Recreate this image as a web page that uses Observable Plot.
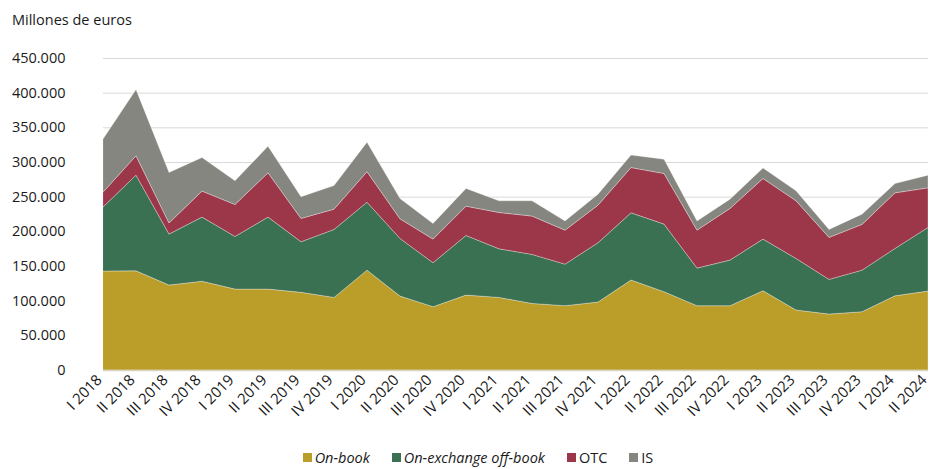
<!DOCTYPE html>
<html>
<head>
<meta charset="utf-8">
<script src="https://cdn.jsdelivr.net/npm/d3@7"></script>
<script src="https://cdn.jsdelivr.net/npm/@observablehq/plot@0.6"></script>
<style>
  html, body { margin: 0; padding: 0; background: #fff; }
  body { width: 930px; height: 469px; overflow: hidden; font-family: "Open Sans", sans-serif; color: #1a1a1a; }
  #title { height: 40px; font-size: 14.5px; padding-left: 12px; line-height: 40px; box-sizing: border-box; }
  #legend { height: 24px; display: flex; justify-content: center; align-items: center; font-size: 14.5px; padding-left: 26px; }
  .item { display: flex; align-items: center; margin: 0 11px; }
  .sw { width: 9px; height: 9px; margin-right: 3px; display: inline-block; }
  .it { font-style: italic; }
</style>
</head>
<body>
<div id="title">Millones de euros</div>
<div id="chart"></div>
<div id="legend"></div>
<script>
const quarters = ["I 2018","II 2018","III 2018","IV 2018","I 2019","II 2019","III 2019","IV 2019",
  "I 2020","II 2020","III 2020","IV 2020","I 2021","II 2021","III 2021","IV 2021",
  "I 2022","II 2022","III 2022","IV 2022","I 2023","II 2023","III 2023","IV 2023","I 2024","II 2024"];
const seriesNames = ["On-book", "On-exchange off-book", "OTC", "IS"];
const seriesColors = ["#BB9D2A", "#3B7153", "#9C3649", "#868680"];
const onBook = [142.7,143,122.5,128,116.7,116.7,112,104.7,144,106.6,91.3,108,104.7,96,92.7,98,129.7,112.9,92.7,92.7,114.3,86.5,80.7,84,107,113.8];
const offBook = [92.3,138,73.5,92.5,75.9,103.8,73,98,98,83.1,63.4,86,70.1,70.7,60,85.5,97,97.5,54.3,65.8,74.5,74.4,50,60,68.3,91.8];
const otc = [21.5,28,16,37.5,46.1,63.9,33.6,29.3,44,28.3,34.1,42.3,52.4,55.3,49,54.3,65.3,73,54.7,74.5,87.4,83.1,60.5,66,80.2,57.1];
const is = [76.5,95.5,73,48.5,34.1,38.4,31.2,34,42.5,29.4,22.5,25.5,16.8,22,13.3,15.8,18,20.6,13.3,13.4,15.3,14.4,11.5,14.8,13.5,18.3];
const yTicks = [0,50000,100000,150000,200000,250000,300000,350000,400000,450000];

const seriesValues = [onBook, offBook, otc, is];
const data = [];
seriesNames.forEach((s, i) => {
  quarters.forEach((q, j) => data.push({q, s, v: seriesValues[i][j] * 1000}));
});

const fmt = v => d3.format(",")(v).replace(/,/g, ".");

const chart = Plot.plot({
  width: 930,
  height: 405,
  marginTop: 18,
  marginBottom: 75,
  marginLeft: 103,
  marginRight: 2,
  style: { fontFamily: "Open Sans, sans-serif", fontSize: "14.5px", color: "#1a1a1a" },
  x: { type: "point", domain: quarters, padding: 0, range: [103, 928], label: null },
  y: { domain: [0, 450000], label: null },
  color: { domain: seriesNames, range: seriesColors },
  marks: [
    Plot.gridY(yTicks, { stroke: "#d9d9d9", strokeOpacity: 1, strokeWidth: 1 }),
    Plot.areaY(data, { x: "q", y: "v", z: "s", fill: "s", order: seriesNames, stroke: "#ffffff", strokeWidth: 0.6, strokeOpacity: 0.5 }),
    Plot.ruleY([0], { stroke: "#d9d3c0", strokeWidth: 1.5 }),
    Plot.axisY({ ticks: yTicks, tickSize: 0, tickPadding: 38, tickFormat: fmt, fontSize: 14.5 }),
    Plot.axisX({ tickSize: 0, tickPadding: 7, tickRotate: -45, fontSize: 15, dx: -4 })
  ]
});
document.getElementById("chart").appendChild(chart);

const legend = document.getElementById("legend");
seriesNames.forEach((s, i) => {
  const item = document.createElement("span");
  item.className = "item";
  const sw = document.createElement("span");
  sw.className = "sw";
  sw.style.background = seriesColors[i];
  const t = document.createElement("span");
  t.textContent = s;
  if (i < 2) t.className = "it";
  item.appendChild(sw);
  item.appendChild(t);
  legend.appendChild(item);
});
</script>
</body>
</html>
